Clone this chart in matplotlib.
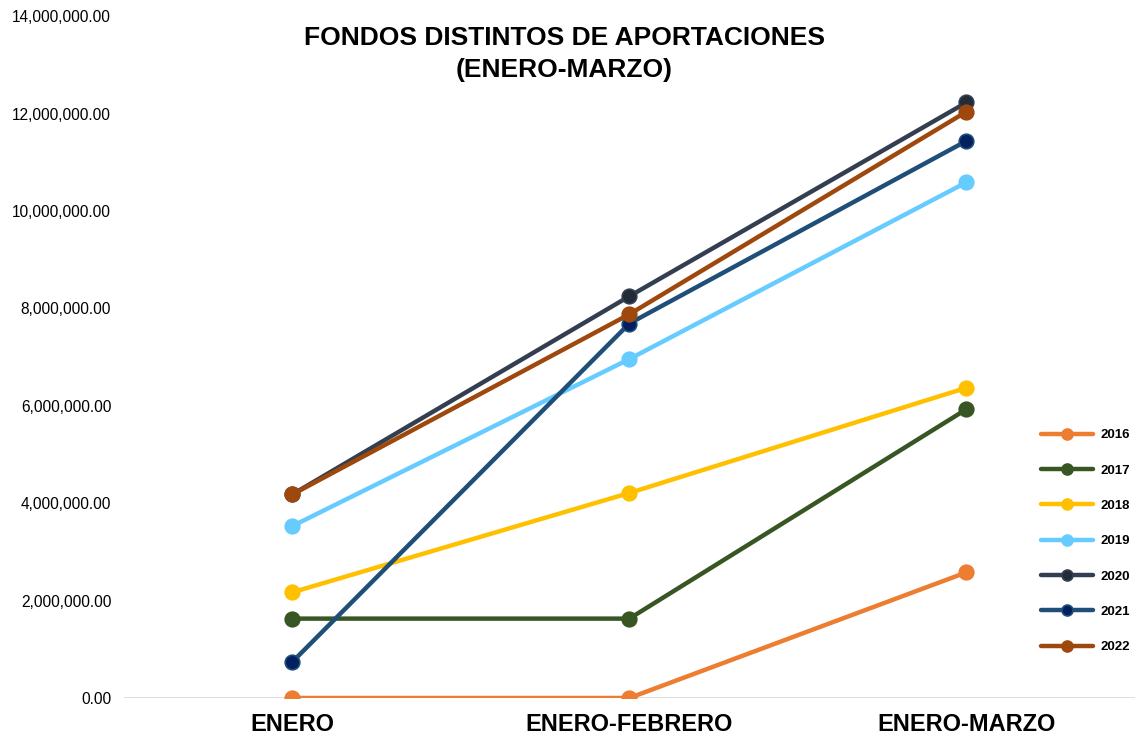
import matplotlib.pyplot as plt
from matplotlib.ticker import FuncFormatter

plt.rcParams['font.family'] = ['Liberation Sans', 'DejaVu Sans']

periods = ["ENERO", "ENERO-FEBRERO", "ENERO-MARZO"]
years = ["2016", "2017", "2018", "2019", "2020", "2021", "2022"]

v2016 = [0, 0, 2580000]
v2017 = [1630000, 1630000, 5930000]
v2018 = [2170000, 4210000, 6370000]
v2019 = [3530000, 6960000, 10590000]
v2020 = [4180000, 8250000, 12230000]
v2021 = [740000, 7690000, 11440000]
v2022 = [4180000, 7880000, 12040000]
series = [v2016, v2017, v2018, v2019, v2020, v2021, v2022]

line_colors = ["#ED7D31", "#375623", "#FFC000", "#66CCFF", "#333F50", "#1F4E79", "#9E480E"]
marker_colors = ["#ED7D31", "#375623", "#FFC000", "#66CCFF", "#222B38", "#002060", "#9E480E"]

fig = plt.figure(figsize=(11.35, 7.39), dpi=100)
ax = fig.add_axes([0.109, 0.0555, 0.891, 0.9225])

x = list(range(len(periods)))
for vals, yr, lc, mc in zip(series, years, line_colors, marker_colors):
    ax.plot(x, vals, color=lc, linewidth=3.2, marker='o', markersize=10.5,
            markerfacecolor=mc, markeredgecolor=lc, markeredgewidth=1.2,
            label=yr, solid_capstyle='round')

ax.set_xlim(-0.5, 2.5)
ax.set_ylim(0, 14000000)
ax.set_yticks(range(0, 14000001, 2000000))
ax.yaxis.set_major_formatter(FuncFormatter(lambda v, p: f"{v:,.2f}"))
ax.set_xticks(x)
ax.set_xticklabels(periods, fontsize=17, fontweight='bold')
ax.tick_params(axis='y', labelsize=11.2, length=0, pad=9)
ax.tick_params(axis='x', length=0, pad=11)
for s in ax.spines.values():
    s.set_visible(False)
ax.axhline(0, color="#D9D9D9", linewidth=1.2, zorder=0)

fig.text(0.497, 0.927, "FONDOS DISTINTOS DE APORTACIONES\n(ENERO-MARZO)",
         ha='center', va='center', fontsize=19, fontweight='bold', linespacing=1.4)

leg = ax.legend(loc='center left', bbox_to_anchor=(0.895, 0.23), frameon=False,
                prop={'weight': 'bold', 'size': 9.5}, labelspacing=1.75,
                handlelength=4.0, handletextpad=0.5, markerscale=0.75)

fig.savefig("out.png", dpi=100)
